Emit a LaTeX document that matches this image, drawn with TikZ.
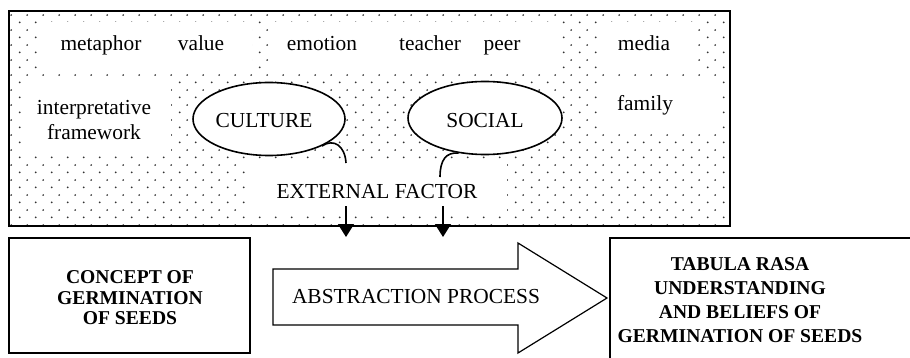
\documentclass[tikz,border=0pt]{standalone}
\usepackage{fontspec}
\setmainfont{Liberation Serif}
\usetikzlibrary{patterns,arrows.meta,shapes.geometric}

% staggered dot fill for the field of external influences
\pgfdeclarepatternformonly{stipple}{\pgfpointorigin}{\pgfpoint{7.75pt}{7.65pt}}{\pgfpoint{7.75pt}{7.65pt}}{%
  \pgfpathcircle{\pgfpoint{1.9pt}{1.9pt}}{0.5pt}%
  \pgfpathcircle{\pgfpoint{5.775pt}{5.725pt}}{0.5pt}%
  \pgfusepath{fill}}

\begin{document}
\begin{tikzpicture}[x=0.5pt,y=-0.5pt,
  txt/.style={inner sep=0pt, font=\fontsize{10.7}{12.8}\selectfont, align=center},
  word/.style={txt, text height=7.6pt, text depth=2.2pt},
  bubble/.style={ellipse, draw, line width=0.8pt, fill=white, inner sep=0pt,
    minimum width=76pt, minimum height=36.5pt},
  hook/.style={line width=0.8pt},
  drop/.style={line width=0.8pt, -{Triangle[width=8pt,length=6.5pt]}},
  heavy/.style={align=center, inner sep=0pt, font=\fontsize{9.8}{10.25}\selectfont\bfseries},
  frame/.style={draw, line width=0.9pt},
  clearzone/.style={fill=white, draw=none}]
\useasboundingbox (0,0) rectangle (910,358);
\clip (0,0) rectangle (910,358);

% stippled field with clear patches behind the words
\fill[pattern=stipple, pattern color=black!80] (9,11) rectangle (730,226);
\fill[clearzone] (42,22) rectangle (252,70);
\fill[clearzone] (270,22) rectangle (558,70);
\fill[clearzone] (600,22) rectangle (695,70);
\fill[clearzone] (21,77) rectangle (171,156);
\fill[clearzone] (600,78) rectangle (718,132);
\fill[clearzone] (249,164) rectangle (507,214);

% words of the field
\node[word] (metaphor) at (101,45) {metaphor};
\node[word] (value) at (201,45) {value};
\node[word] (emotion) at (322,45) {emotion};
\node[word] (teacher) at (430,45) {teacher};
\node[word] (peer) at (502,45) {peer};
\node[word] (media) at (644,45) {media};
\node[txt] (interp) at (94,120) {interpretative\\framework};
\node[word] (family) at (645,105) {family};

% the two main sources
\node[bubble] (culture) at (269,119) {};
\node[word] (culturetext) at (264,122) {CULTURE};
\node[bubble, minimum width=77pt] (social) at (485,118) {};
\node[word] (socialtext) at (485,122) {SOCIAL};

\node[word] (ext) at (377,193) {EXTERNAL FACTOR};

\draw[line width=1.1pt] (9,11) rectangle (730,226);

% links from the sources into the external factor
\coordinate (h1) at (346,163);
\coordinate (h2) at (440,177);
\draw[hook] (culture.-27) .. controls (334,138) and (345,146) .. (h1);
\draw[hook] (social.-127) .. controls (446,152) and (440,160) .. (h2);

% external factor pressing on the abstraction
\coordinate (t1) at (346,206);
\coordinate (b1) at (346,237);
\coordinate (t2) at (443,206);
\coordinate (b2) at (443,237);
\draw[drop] (t1) -- (b1);
\draw[drop] (t2) -- (b2);

% starting concept
\node[frame, minimum width=120.5pt, minimum height=57.5pt] (concept) at (129.5,295.5) {};
\node[heavy] (concepttext) at (130,298) {CONCEPT OF\\GERMINATION\\OF SEEDS};

% abstraction block arrow
\draw[line width=0.6pt] (273,269) -- (518,269) -- (518,243) -- (607,298)
  -- (518,353) -- (518,325) -- (273,325) -- cycle;
\node[word] (abs) at (416,298) {ABSTRACTION PROCESS};

% resulting understanding
\draw[frame] (610,238) rectangle (930,380);
\node[heavy, font=\fontsize{9.8}{12}\selectfont\bfseries] (tabula) at (740,300)
  {TABULA RASA\\UNDERSTANDING\\AND BELIEFS OF\\GERMINATION OF SEEDS};
\end{tikzpicture}
\end{document}
